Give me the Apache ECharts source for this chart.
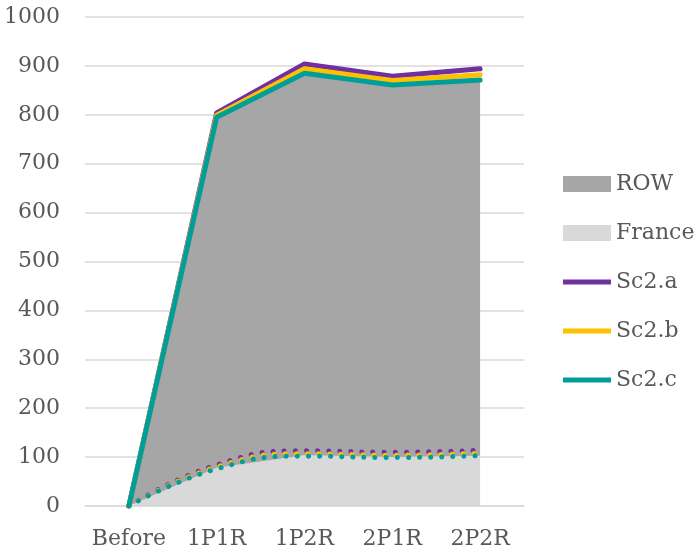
<!DOCTYPE html>
<html>
<head>
<meta charset="utf-8">
<script src="https://cdn.jsdelivr.net/npm/echarts@6/dist/echarts.min.js"></script>
<style>
  html, body { margin: 0; padding: 0; background: #ffffff; }
  #chart { width: 696px; height: 558px; }
</style>
</head>
<body>
<div id="chart"></div>
<script>
// Stages of the scenario
const categories = ['Before', '1P1R', '1P2R', '2P1R', '2P2R'];

// Stacked areas: French share and rest of the world
const franceValues = [0, 78, 104, 100, 103];
const rowValues = [0, 717, 781, 761, 768];

// Scenario totals (solid lines)
const sc2aTotal = [0, 804, 904, 879, 894];
const sc2bTotal = [0, 799, 894, 870, 882];
const sc2cTotal = [0, 795, 885, 861, 871];

// Scenario French parts (dotted lines)
const sc2aFrance = [0, 84, 113, 110, 114];
const sc2bFrance = [0, 80, 107, 104, 108];
const sc2cFrance = [0, 76, 102, 99, 103];

// Y axis range
const yMin = 0;
const yMax = 1000;
const yStep = 100;

const FONT = 'DejaVu Serif';
const TEXT_COLOR = '#595959';
const GRID_COLOR = '#d9d9d9';

const colors = {
  row: '#a6a6a6',
  france: '#d9d9d9',
  a: '#7030a0',
  b: '#ffc000',
  c: '#009e98'
};

// Legend icon for the line series: a thick bar centred in a 48x16 box
// (the two degenerate points at top and bottom fix the box height).
const LINE_ICON = 'path://M0,0L0.01,0L0,0.01ZM0,5.5L48,5.5L48,10.5L0,10.5ZM47.99,16L48,16L48,15.99Z';

function areaSeries(name, data, color) {
  return {
    name: name,
    type: 'line',
    stack: 'total',
    data: data,
    symbol: 'none',
    color: color,
    itemStyle: { color: color },
    lineStyle: { width: 0, color: color },
    areaStyle: { color: color, opacity: 1 },
    emphasis: { disabled: true }
  };
}

function dottedSeries(name, data, color) {
  return {
    name: name,
    type: 'line',
    data: data,
    symbol: 'none',
    smooth: true,
    color: color,
    lineStyle: { width: 5, color: color, type: [0.1, 11], cap: 'round' },
    emphasis: { disabled: true }
  };
}

function solidSeries(name, data, color) {
  return {
    name: name,
    type: 'line',
    data: data,
    symbol: 'none',
    color: color,
    itemStyle: { color: color },
    lineStyle: { width: 5, color: color, cap: 'round', join: 'round' },
    emphasis: { disabled: true }
  };
}

const chart = echarts.init(document.getElementById('chart'), null, { renderer: 'canvas' });

chart.setOption({
  animation: false,
  backgroundColor: '#ffffff',
  grid: { left: 85, right: 172, top: 17, bottom: 52, containLabel: false },
  legend: {
    orient: 'vertical',
    left: 558,
    top: 168,
    itemWidth: 48,
    itemHeight: 16,
    itemGap: 27,
    symbolKeepAspect: true,
    textStyle: { fontFamily: FONT, fontSize: 22, color: TEXT_COLOR, lineHeight: 22 },
    data: [
      { name: 'ROW', icon: 'rect' },
      { name: 'France', icon: 'rect' },
      { name: 'Sc2.a', icon: LINE_ICON },
      { name: 'Sc2.b', icon: LINE_ICON },
      { name: 'Sc2.c', icon: LINE_ICON }
    ]
  },
  xAxis: {
    type: 'category',
    data: categories,
    boundaryGap: true,
    axisLine: { show: true, lineStyle: { color: GRID_COLOR, width: 1.5 } },
    axisTick: { show: false },
    axisLabel: { fontFamily: FONT, fontSize: 22, color: TEXT_COLOR, margin: 22, interval: 0 }
  },
  yAxis: {
    type: 'value',
    min: yMin,
    max: yMax,
    interval: yStep,
    axisLine: { show: false },
    axisTick: { show: false },
    axisLabel: {
      fontFamily: FONT, fontSize: 22, color: TEXT_COLOR, margin: 25,
      formatter: function (v) { return String(v); }
    },
    splitLine: { lineStyle: { color: GRID_COLOR, width: 1.5 } }
  },
  series: [
    areaSeries('France', franceValues, colors.france),
    areaSeries('ROW', rowValues, colors.row),
    dottedSeries('Sc2.a France', sc2aFrance, colors.a),
    dottedSeries('Sc2.b France', sc2bFrance, colors.b),
    dottedSeries('Sc2.c France', sc2cFrance, colors.c),
    solidSeries('Sc2.a', sc2aTotal, colors.a),
    solidSeries('Sc2.b', sc2bTotal, colors.b),
    solidSeries('Sc2.c', sc2cTotal, colors.c)
  ]
});
</script>
</body>
</html>
